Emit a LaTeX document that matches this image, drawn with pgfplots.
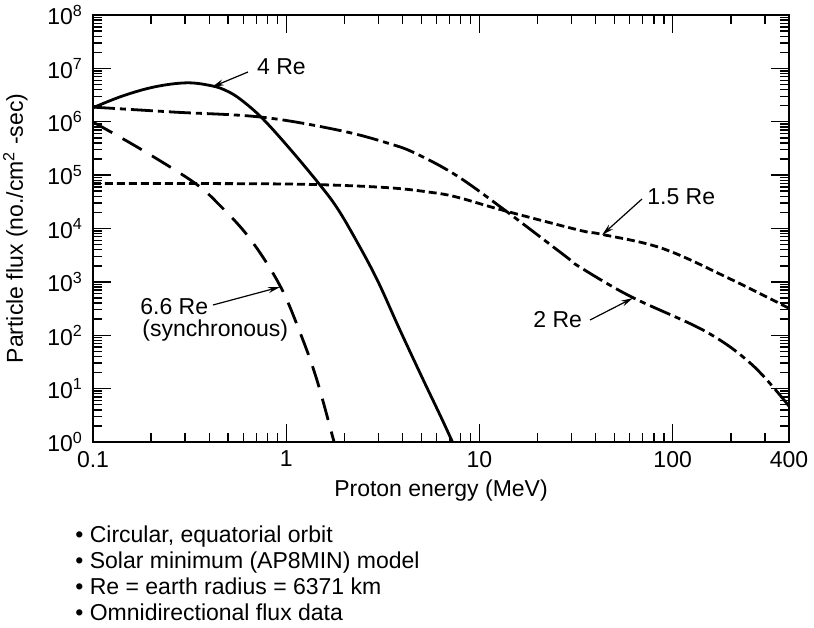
\documentclass[border=0pt]{standalone}
\usepackage{pgfplots}
\pgfplotsset{compat=1.18}
\usepackage{fontspec}
\setmainfont{Liberation Sans}
\usetikzlibrary{arrows.meta}

\pgfplotstableread{
x y
0.1 1.83e6
0.143 3.06e6
0.209 4.51e6
0.306 5.36e6
0.412 4.71e6
0.487 3.85e6
0.575 2.69e6
0.747 1.19e6
1.043 3.13e5
1.49 6.64e4
1.824 2.5e4
2.24 7160
2.94 1140
3.86 130
5.07 15.7
6.36 2.81
7.25 1
}\fourRe

\pgfplotstableread{
x y
0.1 1.88e6
0.26 1.52e6
0.744 1.22e6
1.89 6.88e5
3.43 3.88e5
4.71 2.52e5
7.58 9.9e4
13.2 2.36e4
28.1 2960
32.9 1920
60.8 529
148.5 117
258 27.9
400 4.7
}\twoRe

\pgfplotstableread{
x y
0.1 7.0e4
0.648 6.9e4
1.54 6.6e4
3.4 5.8e4
5.5 4.8e4
7.58 3.9e4
13.2 2.2e4
32.9 9290
42.6 7820
88.5 4230
196 1160
400 320
}\onefiveRe

\pgfplotstableread{
x y
0.1 9.87e5
0.175 3.13e5
0.33 7.46e4
0.444 2.93e4
0.648 6500
0.925 871
1.174 117
1.432 15.7
1.746 1.19
1.77 1
}\sixsixRe

\begin{document}
\fontsize{11.5}{13.8}\selectfont
\begin{tikzpicture}
\path[use as bounding box] (-46.5pt,-92.5pt) rectangle (360.5pt,221pt);
\begin{axis}[
  at={(0pt,0pt)}, anchor=south west,
  scale only axis,
  width=348pt, height=213.5pt,
  xmode=log, ymode=log,
  xmin=0.1, xmax=400, ymin=1, ymax=1e8,
  axis line style={line width=1pt},
  tick style={line width=0.7pt, black},
  major tick length=9pt, minor tick length=4.5pt,
  tick align=inside,
  xtick={0.1,1,10,100,400},
  xticklabels={0.1,1,10,100,400},
  minor xtick={0.2,0.3,0.4,0.5,0.6,0.7,0.8,0.9,2,3,4,5,6,7,8,9,20,30,40,50,60,70,80,90,200,300},
  ytick={1,10,100,1000,10000,100000,1000000,10000000,100000000},
  yticklabels={10\textsuperscript{0},10\textsuperscript{1},10\textsuperscript{2},10\textsuperscript{3},10\textsuperscript{4},10\textsuperscript{5},10\textsuperscript{6},10\textsuperscript{7},10\textsuperscript{8}},
  minor ytick={2,3,4,5,6,7,8,9,20,30,40,50,60,70,80,90,200,300,400,500,600,700,800,900,2e3,3e3,4e3,5e3,6e3,7e3,8e3,9e3,2e4,3e4,4e4,5e4,6e4,7e4,8e4,9e4,2e5,3e5,4e5,5e5,6e5,7e5,8e5,9e5,2e6,3e6,4e6,5e6,6e6,7e6,8e6,9e6,2e7,3e7,4e7,5e7,6e7,7e7,8e7,9e7},
  ticklabel style={font=\fontsize{11.5}{13.8}\selectfont},
  xticklabel style={yshift=-0.5pt},
  yticklabel style={xshift=-1pt},
  /pgf/number format/assume math mode=true,
]
\addplot[black, line width=1.4pt, smooth, tension=0.6] table {\fourRe};
\addplot[black, line width=1.4pt, smooth, tension=0.6, dash pattern=on 11pt off 2.5pt on 3pt off 2.5pt] table {\twoRe};
\addplot[black, line width=1.4pt, smooth, tension=0.6, dash pattern=on 4pt off 2pt] table {\onefiveRe};
\addplot[black, line width=1.4pt, smooth, tension=0.6, dash pattern=on 11pt off 6pt] table {\sixsixRe};
\end{axis}
% axis labels
\node[rotate=90, anchor=base] at (-35pt,106.75pt) {Particle flux (no./cm\textsuperscript{2} -sec)};
\node[anchor=base] at (174pt,-27pt) {Proton energy (MeV)};
% annotations
\node[anchor=base west, inner sep=0pt] at (81.9pt,183.5pt) {4 Re};
\draw[line width=0.6pt, -{Stealth[length=6pt,width=3pt]}] (77.5pt,185pt) -- (59.5pt,177.5pt);
\node[anchor=base west, inner sep=0pt] at (277pt,118.5pt) {1.5 Re};
\draw[line width=0.6pt, -{Stealth[length=6pt,width=3pt]}] (274.5pt,121.5pt) -- (254.5pt,103.5pt);
\node[anchor=base west, inner sep=0pt] at (220pt,57pt) {2 Re};
\draw[line width=0.6pt, -{Stealth[length=6pt,width=3pt]}] (248.5pt,61pt) -- (270pt,72pt);
\node[anchor=base west, inner sep=0pt] at (23.5pt,63.5pt) {6.6 Re};
\node[anchor=base west, inner sep=0pt] at (24.5pt,52.5pt) {(synchronous)};
\draw[line width=0.6pt, -{Stealth[length=6pt,width=3pt]}] (60pt,68.5pt) -- (93.5pt,77.5pt);
% notes
\node[anchor=base west, inner sep=0pt] at (-9pt,-50pt) {\textbullet\ Circular, equatorial orbit};
\node[anchor=base west, inner sep=0pt] at (-9pt,-63pt) {\textbullet\ Solar minimum (AP8MIN) model};
\node[anchor=base west, inner sep=0pt] at (-9pt,-76pt) {\textbullet\ Re = earth radius = 6371 km};
\node[anchor=base west, inner sep=0pt] at (-9pt,-89pt) {\textbullet\ Omnidirectional flux data};
\end{tikzpicture}
\end{document}
